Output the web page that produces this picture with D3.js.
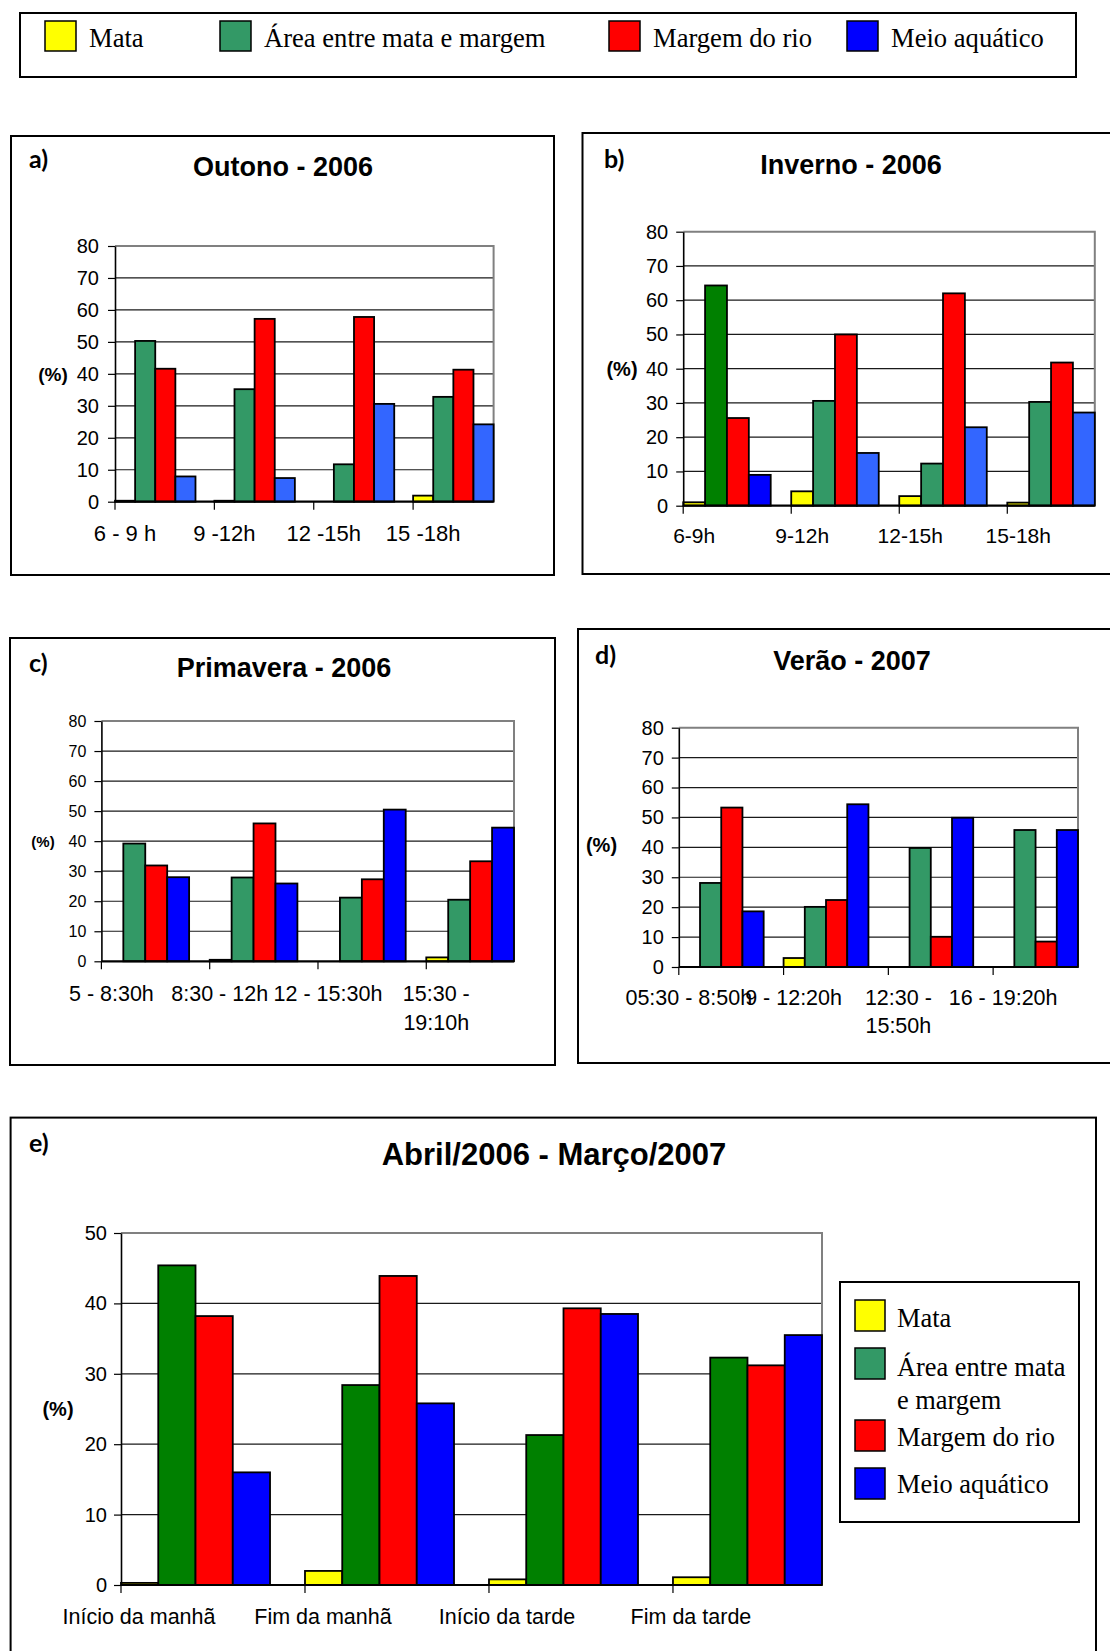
<!DOCTYPE html>
<html>
<head>
<meta charset="utf-8">
<script src="https://cdn.jsdelivr.net/npm/d3@7"></script>
<style>
  body { margin: 0; background: #fff; }
  svg { display: block; }
</style>
</head>
<body>
<script>
// Habitat use (%) by time of day, four seasons and the whole year
const seriesNames = ["Mata", "Área entre mata e margem", "Margem do rio", "Meio aquático"];

const outonoCategories = ["6 - 9 h", "9 -12h", "12 -15h", "15 -18h"];
const outonoValues = [
  [0.3, 0.3, 0, 1.9],
  [50.3, 35.2, 11.7, 32.8],
  [41.6, 57.2, 57.8, 41.3],
  [7.9, 7.4, 30.6, 24.2]
];

const invernoCategories = ["6-9h", "9-12h", "12-15h", "15-18h"];
const invernoValues = [
  [1.0, 4.2, 2.8, 0.9],
  [64.3, 30.6, 12.3, 30.3],
  [25.6, 50.0, 62.0, 41.8],
  [9.0, 15.4, 22.9, 27.2]
];

const primaveraCategories = ["5 - 8:30h", "8:30 - 12h", "12 - 15:30h", "15:30 -\n19:10h"];
const primaveraValues = [
  [0, 0.5, 0, 1.3],
  [39.2, 27.9, 21.2, 20.5],
  [31.9, 45.9, 27.3, 33.3],
  [28.0, 25.9, 50.5, 44.5]
];

const veraoCategories = ["05:30 - 8:50h", "9 - 12:20h", "12:30 -\n15:50h", "16 - 19:20h"];
const veraoValues = [
  [0, 3.0, 0, 0],
  [28.1, 20.1, 39.8, 45.8],
  [53.3, 22.4, 10.1, 8.5],
  [18.6, 54.4, 49.9, 45.8]
];

const anualCategories = ["Início da manhã", "Fim da manhã", "Início da tarde", "Fim da tarde"];
const anualValues = [
  [0.3, 2.0, 0.8, 1.1],
  [45.4, 28.4, 21.3, 32.3],
  [38.2, 43.9, 39.3, 31.2],
  [16.0, 25.8, 38.5, 35.5]
];

const ticks80 = [0, 10, 20, 30, 40, 50, 60, 70, 80];
const ticks50 = [0, 10, 20, 30, 40, 50];

// colours
const YELLOW = "#FFFF00", SEA = "#339966", DKGREEN = "#008000",
      RED = "#FF0000", ROYAL = "#3366FF", BLUE = "#0000FF";

const SANS = "'Liberation Sans', Arial, sans-serif";
const SERIF = "'Liberation Serif', 'Times New Roman', serif";
const LABEL = "Lato, 'Open Sans', sans-serif";

const svg = d3.select("body").append("svg")
  .attr("width", 1110).attr("height", 1651)
  .attr("viewBox", "0 0 1110 1651");

// ---------- shared legend at the top ----------
const topLegendColors = [YELLOW, SEA, RED, BLUE];
const topLegendX = [45, 220, 609, 847];
svg.append("rect").attr("x", 20).attr("y", 13).attr("width", 1056).attr("height", 64)
  .attr("fill", "#fff").attr("stroke", "#000").attr("stroke-width", 2);
seriesNames.forEach((name, i) => {
  svg.append("rect").attr("x", topLegendX[i]).attr("y", 21).attr("width", 31).attr("height", 30)
    .attr("fill", topLegendColors[i]).attr("stroke", "#000").attr("stroke-width", 1.5);
  svg.append("text").attr("x", topLegendX[i] + 44).attr("y", 47)
    .attr("font-family", SERIF).attr("font-size", 26.6).text(name);
});

// ---------- one bar-chart panel ----------
function panel(o) {
  const g = svg.append("g");

  g.append("rect").attr("x", o.box[0]).attr("y", o.box[1])
    .attr("width", o.box[2]).attr("height", o.box[3])
    .attr("fill", "#fff").attr("stroke", "#000").attr("stroke-width", 2);

  g.append("text").attr("x", o.tag[0]).attr("y", o.tag[1])
    .attr("font-family", LABEL).attr("font-weight", 700).attr("font-size", 25)
    .text(o.tagText);

  g.append("text").attr("x", o.title[0]).attr("y", o.title[1])
    .attr("text-anchor", "middle").attr("font-family", SANS).attr("font-weight", 700)
    .attr("font-size", o.titleSize).text(o.titleText);

  const x = d3.scaleBand().domain(o.categories).range([o.left, o.right])
    .paddingInner(0.19).paddingOuter(0);
  const xs = d3.scaleBand().domain(d3.range(seriesNames.length)).range([0, x.bandwidth()]);
  const y = d3.scaleLinear().domain([0, o.ymax]).range([o.bottom, o.top]);

  // gridlines
  g.append("g").selectAll("line")
    .data(o.ticks.filter(t => t > 0 && t < o.ymax))
    .join("line")
    .attr("x1", o.left).attr("x2", o.right)
    .attr("y1", d => y(d)).attr("y2", d => y(d))
    .attr("stroke", "#1a1a1a").attr("stroke-width", 1.2);

  // plot frame (top and right edges)
  g.append("path")
    .attr("d", `M${o.left},${y(o.ymax)}H${o.right}V${o.bottom}`)
    .attr("fill", "none").attr("stroke", "#808080").attr("stroke-width", 2);

  // bars
  const cells = [];
  o.values.forEach((row, s) => row.forEach((v, i) => cells.push({ s, i, v })));
  g.append("g").selectAll("rect")
    .data(cells)
    .join("rect")
    .attr("x", d => x(o.categories[d.i]) + xs(d.s))
    .attr("y", d => y(d.v))
    .attr("width", xs.bandwidth())
    .attr("height", d => y(0) - y(d.v))
    .attr("fill", d => (o.groupColors && o.groupColors[d.i]) ? o.groupColors[d.i][d.s] : o.colors[d.s])
    .attr("stroke", "#000").attr("stroke-width", 1.8);

  // y axis
  const ya = g.append("g").attr("transform", `translate(${o.left},0)`)
    .call(d3.axisLeft(y).tickValues(o.ticks).tickSize(7).tickSizeOuter(0).tickPadding(o.tickPad));
  ya.select(".domain").attr("stroke", "#000").attr("stroke-width", 1.6);
  ya.selectAll(".tick line").attr("stroke", "#000").attr("stroke-width", 1.2);
  ya.selectAll(".tick text").attr("font-family", SANS).attr("font-size", o.yFont).attr("fill", "#000");

  // x axis line and ticks at the start of each category
  g.append("line").attr("x1", o.left).attr("x2", o.right)
    .attr("y1", y(0)).attr("y2", y(0)).attr("stroke", "#000").attr("stroke-width", 2.2);
  g.append("g").selectAll("line")
    .data(o.categories)
    .join("line")
    .attr("x1", d => x(d)).attr("x2", d => x(d))
    .attr("y1", y(0)).attr("y2", y(0) + 8)
    .attr("stroke", "#000").attr("stroke-width", 1.2);

  // category labels
  const lbl = g.append("g").selectAll("text")
    .data(o.categories)
    .join("text")
    .attr("x", d => x(d) + o.labelShift)
    .attr("y", o.labelY)
    .attr("text-anchor", "middle")
    .attr("font-family", SANS).attr("font-size", o.xFont);
  lbl.each(function(d) {
    const t = d3.select(this);
    d.split("\n").forEach((line, k) => {
      t.append("tspan").attr("x", x(d) + o.labelShift).attr("dy", k === 0 ? 0 : o.lineGap).text(line);
    });
  });

  // unit label
  g.append("text").attr("x", o.unit[0]).attr("y", o.unit[1])
    .attr("text-anchor", "middle").attr("font-family", SANS).attr("font-weight", 700)
    .attr("font-size", o.unitSize).text("(%)");

  return g;
}

// a) autumn
panel({
  box: [11, 136, 543, 439], tag: [29, 168], tagText: "a)",
  title: [283, 176], titleText: "Outono - 2006", titleSize: 27,
  categories: outonoCategories, values: outonoValues,
  colors: [YELLOW, SEA, RED, ROYAL],
  left: 115, right: 493.6, top: 246, bottom: 501.7, ymax: 80, ticks: ticks80,
  yFont: 20, tickPad: 9, xFont: 22, labelY: 541, labelShift: 10, lineGap: 29,
  unit: [53, 381], unitSize: 19
});

// b) winter
panel({
  box: [582.5, 133, 560, 441], tag: [604, 168], tagText: "b)",
  title: [851, 174], titleText: "Inverno - 2006", titleSize: 27,
  categories: invernoCategories, values: invernoValues,
  colors: [YELLOW, SEA, RED, ROYAL],
  groupColors: [[YELLOW, DKGREEN, RED, BLUE]],
  left: 683.2, right: 1094.8, top: 231.7, bottom: 505.7, ymax: 80, ticks: ticks80,
  yFont: 20, tickPad: 8, xFont: 21, labelY: 543, labelShift: 11, lineGap: 29,
  unit: [622, 376], unitSize: 20
});

// c) spring
panel({
  box: [10, 638, 545, 427], tag: [29, 672], tagText: "c)",
  title: [284, 677], titleText: "Primavera - 2006", titleSize: 27,
  categories: primaveraCategories, values: primaveraValues,
  colors: [YELLOW, SEA, RED, BLUE],
  left: 101.4, right: 514, top: 721, bottom: 961.3, ymax: 80, ticks: ticks80,
  yFont: 16, tickPad: 8, xFont: 21.5, labelY: 1001, labelShift: 10, lineGap: 29,
  unit: [43, 847], unitSize: 15
});

// d) summer
panel({
  box: [578, 629, 560, 434], tag: [595, 664], tagText: "d)",
  title: [852, 670], titleText: "Verão - 2007", titleSize: 27,
  categories: veraoCategories, values: veraoValues,
  colors: [YELLOW, SEA, RED, BLUE],
  left: 678.8, right: 1078, top: 727.7, bottom: 967, ymax: 80, ticks: ticks80,
  yFont: 20, tickPad: 8, xFont: 21.5, labelY: 1005, labelShift: 10, lineGap: 28,
  unit: [601.5, 852], unitSize: 20
});

// e) whole year
const pe = panel({
  box: [10.6, 1117.6, 1085.4, 560], tag: [29, 1152], tagText: "e)",
  title: [554, 1165], titleText: "Abril/2006 - Março/2007", titleSize: 31,
  categories: anualCategories, values: anualValues,
  colors: [YELLOW, DKGREEN, RED, BLUE],
  left: 121, right: 822, top: 1233, bottom: 1585, ymax: 50, ticks: ticks50,
  yFont: 20, tickPad: 7, xFont: 21.5, labelY: 1624, labelShift: 18, lineGap: 29,
  unit: [58, 1416], unitSize: 20
});

// legend inside panel e
const eLegendColors = [YELLOW, SEA, RED, BLUE];
const eLegendRows = [
  { y: 1300, lines: ["Mata"], base: 1327 },
  { y: 1348, lines: ["Área entre mata", "e margem"], base: 1375.5 },
  { y: 1420, lines: ["Margem do rio"], base: 1446 },
  { y: 1468, lines: ["Meio aquático"], base: 1493 }
];
pe.append("rect").attr("x", 840).attr("y", 1282).attr("width", 239).attr("height", 240)
  .attr("fill", "#fff").attr("stroke", "#000").attr("stroke-width", 2);
eLegendRows.forEach((r, i) => {
  pe.append("rect").attr("x", 855).attr("y", r.y).attr("width", 30).attr("height", 31)
    .attr("fill", eLegendColors[i]).attr("stroke", "#000").attr("stroke-width", 1.5);
  const t = pe.append("text").attr("y", r.base).attr("font-family", SERIF).attr("font-size", 26.4);
  r.lines.forEach((line, k) => {
    t.append("tspan").attr("x", 897).attr("dy", k === 0 ? 0 : 33.5).text(line);
  });
});
</script>
</body>
</html>
